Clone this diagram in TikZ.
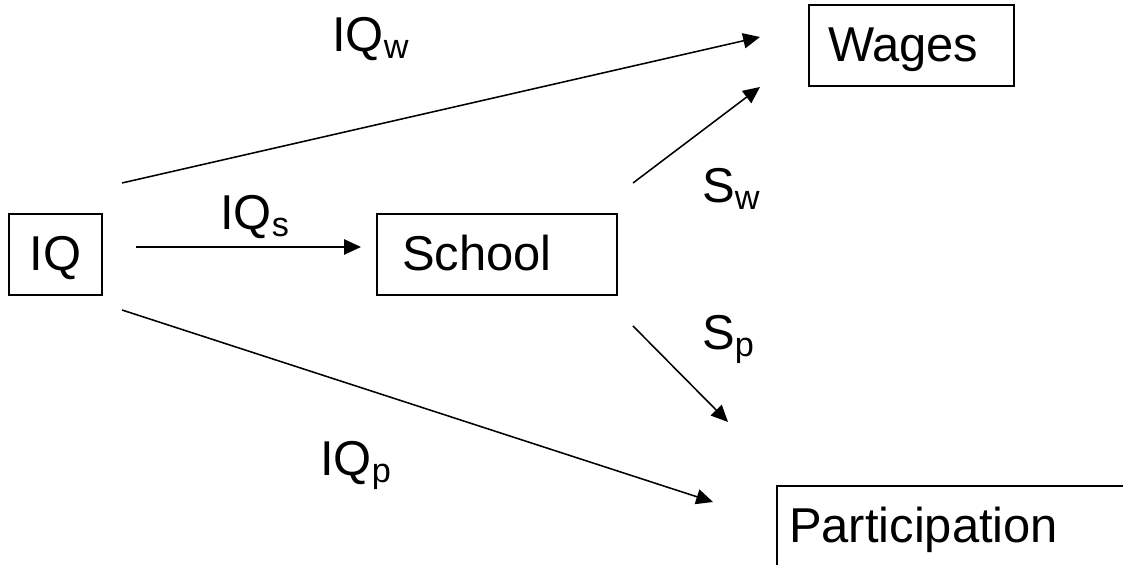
\documentclass[tikz,border=0pt]{standalone}
\usepackage{fontspec}
\setmainfont{Liberation Sans}
\usetikzlibrary{arrows.meta}

\begin{document}
\begin{tikzpicture}[
  font=\fontsize{34.8pt}{42pt}\selectfont,
  box/.style={draw=black, line width=1.4pt, minimum height=2.025cm, inner sep=0pt,
              text height=31.3pt, text depth=8pt},
  lbl/.style={anchor=base west, inner sep=0pt},
  edge/.style={draw=black, line width=1.1pt, -{Triangle[length=0.42cm,width=0.38cm]}}
]
\useasboundingbox (0,0) rectangle (28.075,14.125);
\clip (0,0) rectangle (28.075,14.125);
% boxes
\node[box, minimum width=2.325cm] (iq) at (1.3875,7.7625) {IQ};
\node[box] (school) at (12.425,7.7625) {\makebox[6cm][l]{\hspace{0.625cm}School}};
\node[box] (wages) at (22.7875,12.9875) {\makebox[5.125cm][l]{\hspace{0.475cm}Wages}};
\node[box] (part) at (23.9625,0.9625) {\makebox[9.075cm][l]{\hspace{0.3cm}Participation}};
% arrow ends
\coordinate (iqw-a) at (3.05,9.55);    \coordinate (iqw-b) at (19.0,13.2);
\coordinate (iqs-a) at (3.4,7.95);     \coordinate (iqs-b) at (9.025,7.95);
\coordinate (iqp-a) at (3.05,6.375);   \coordinate (iqp-b) at (17.825,1.575);
\coordinate (sw-a) at (15.825,9.55);   \coordinate (sw-b) at (19.0,11.95);
\coordinate (sp-a) at (15.825,5.975);  \coordinate (sp-b) at (18.2,3.575);
\draw[edge] (iqw-a) -- (iqw-b);
\draw[edge] (iqs-a) -- (iqs-b);
\draw[edge] (iqp-a) -- (iqp-b);
\draw[edge] (sw-a) -- (sw-b);
\draw[edge] (sp-a) -- (sp-b);
% labels
\node[lbl] (l-iqw) at (8.3,12.825) {IQ\textsubscript{w}};
\node[lbl] (l-iqs) at (5.5,8.375) {IQ\textsubscript{s}};
\node[lbl] (l-iqp) at (8.0,2.225) {IQ\textsubscript{p}};
\node[lbl] (l-sw) at (17.55,9.05) {S\textsubscript{w}};
\node[lbl] (l-sp) at (17.55,5.375) {S\textsubscript{p}};
\end{tikzpicture}
\end{document}
